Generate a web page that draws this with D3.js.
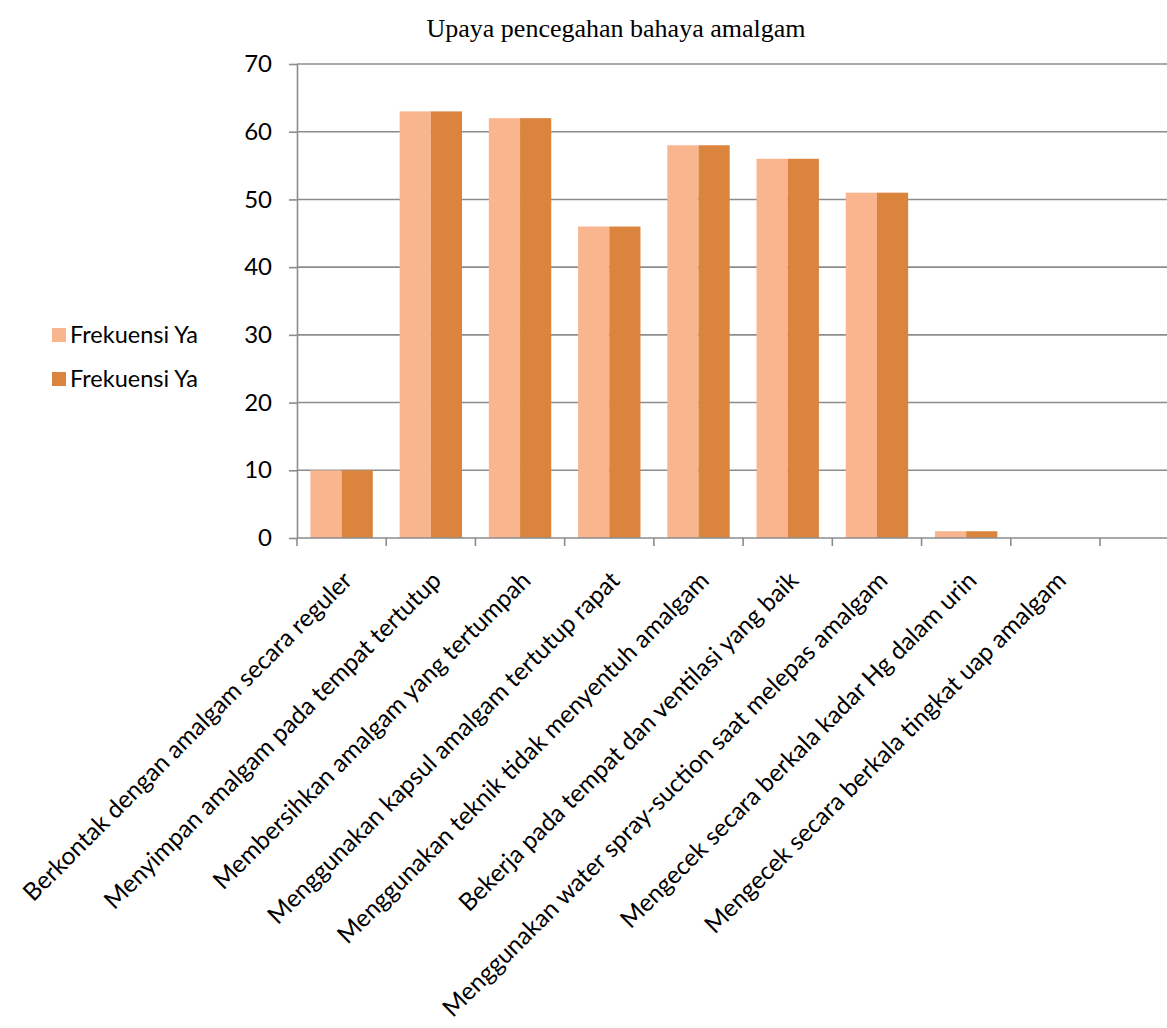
<!DOCTYPE html>
<html>
<head>
<meta charset="utf-8">
<script src="https://cdn.jsdelivr.net/npm/d3@7"></script>
<style>
  body { margin: 0; background: #fff; }
  svg { display: block; }
</style>
</head>
<body>
<svg id="chart" width="1167" height="1028"></svg>
<script>
const categories = [
    "Berkontak dengan amalgam secara reguler",
    "Menyimpan amalgam pada tempat tertutup",
    "Membersihkan amalgam yang tertumpah",
    "Menggunakan kapsul amalgam tertutup rapat",
    "Menggunakan teknik tidak menyentuh amalgam",
    "Bekerja pada tempat dan ventilasi yang baik",
    "Menggunakan water spray-suction saat melepas amalgam",
    "Mengecek secara berkala kadar Hg dalam urin",
    "Mengecek secara berkala tingkat uap amalgam",
];
const seriesNames = ["Frekuensi Ya", "Frekuensi Ya"];
const seriesA = [10, 63, 62, 46, 58, 56, 51, 1, 0];
const seriesB = [10, 63, 62, 46, 58, 56, 51, 1, 0];
const yTicks = [0, 10, 20, 30, 40, 50, 60, 70];
const colors = ["#F8B58E", "#DB843E"];

const plot = { left: 297, right: 1100, top: 64, bottom: 538 };
const gridRight = 1167;
const axisColor = "#8c8c8c";
const sans = "Lato, 'Open Sans', sans-serif";

const svg = d3.select("#chart");

const x = d3.scaleBand()
    .domain(categories.map((d, i) => i))
    .range([plot.left, plot.right])
    .paddingInner(0)
    .paddingOuter(0);

// two bars per category, centred in the band
const xSeries = d3.scaleBand()
    .domain([0, 1])
    .range([0, x.bandwidth()])
    .paddingInner(0)
    .paddingOuter(0.43);

const y = d3.scaleLinear()
    .domain([0, 70])
    .range([plot.bottom, plot.top]);

// Title
svg.append("text")
    .attr("x", 616)
    .attr("y", 37)
    .attr("text-anchor", "middle")
    .style("font-family", "'Liberation Serif', 'Times New Roman', serif")
    .style("font-size", "26px")
    .style("fill", "#000")
    .text("Upaya pencegahan bahaya amalgam");

// Horizontal gridlines
svg.append("g")
    .selectAll("line")
    .data(yTicks.filter((t) => t > 0))
    .join("line")
    .attr("x1", plot.left)
    .attr("x2", gridRight)
    .attr("y1", (d) => y(d))
    .attr("y2", (d) => y(d))
    .attr("stroke", axisColor)
    .attr("stroke-width", 1.6);

// Y axis
const yAxisG = svg.append("g")
    .attr("transform", `translate(${plot.left},0)`)
    .call(d3.axisLeft(y)
        .tickValues(yTicks)
        .tickSize(8)
        .tickSizeOuter(0)
        .tickPadding(17)
        .tickFormat(d3.format("d")));
yAxisG.select(".domain").attr("stroke", axisColor).attr("stroke-width", 1.6);
yAxisG.selectAll(".tick line").attr("stroke", axisColor).attr("stroke-width", 1.6);
yAxisG.selectAll("text")
    .style("font-family", sans)
    .style("font-size", "24px")
    .style("fill", "#000");

// Bars
const rows = categories.map((c, i) => ({ i, values: [seriesA[i], seriesB[i]] }));
svg.append("g")
    .selectAll("g")
    .data(rows)
    .join("g")
    .attr("transform", (d) => `translate(${x(d.i)},0)`)
    .selectAll("rect")
    .data((d) => d.values.map((v, s) => ({ v, s })))
    .join("rect")
    .attr("x", (d) => xSeries(d.s))
    .attr("y", (d) => y(d.v))
    .attr("width", xSeries.bandwidth())
    .attr("height", (d) => y(0) - y(d.v))
    .attr("fill", (d) => colors[d.s]);

// X axis baseline + ticks between categories
svg.append("line")
    .attr("x1", plot.left)
    .attr("x2", gridRight)
    .attr("y1", y(0))
    .attr("y2", y(0))
    .attr("stroke", axisColor)
    .attr("stroke-width", 1.6);

svg.append("g")
    .selectAll("line")
    .data(d3.range(categories.length + 1))
    .join("line")
    .attr("x1", (d) => plot.left + d * x.step())
    .attr("x2", (d) => plot.left + d * x.step())
    .attr("y1", y(0))
    .attr("y2", y(0) + 8)
    .attr("stroke", axisColor)
    .attr("stroke-width", 1.6);

// Rotated category labels
svg.append("g")
    .selectAll("text")
    .data(categories)
    .join("text")
    .attr("text-anchor", "end")
    .attr("transform", (d, i) =>
        `translate(${x(i) + x.bandwidth() / 2 + 12},${y(0) + 44}) rotate(-45)`)
    .style("font-family", sans)
    .style("font-size", "24.5px")
    .style("fill", "#000")
    .text((d) => d);

// Legend
const legend = svg.append("g")
    .attr("transform", "translate(52,335)");
const items = legend.selectAll("g")
    .data(seriesNames)
    .join("g")
    .attr("transform", (d, i) => `translate(0,${i * 44})`);
items.append("rect")
    .attr("x", 0)
    .attr("y", -7)
    .attr("width", 14)
    .attr("height", 14)
    .attr("fill", (d, i) => colors[i]);
items.append("text")
    .attr("x", 18)
    .attr("y", 8)
    .style("font-family", sans)
    .style("font-size", "23.5px")
    .style("fill", "#000")
    .text((d) => d);
</script>
</body>
</html>
